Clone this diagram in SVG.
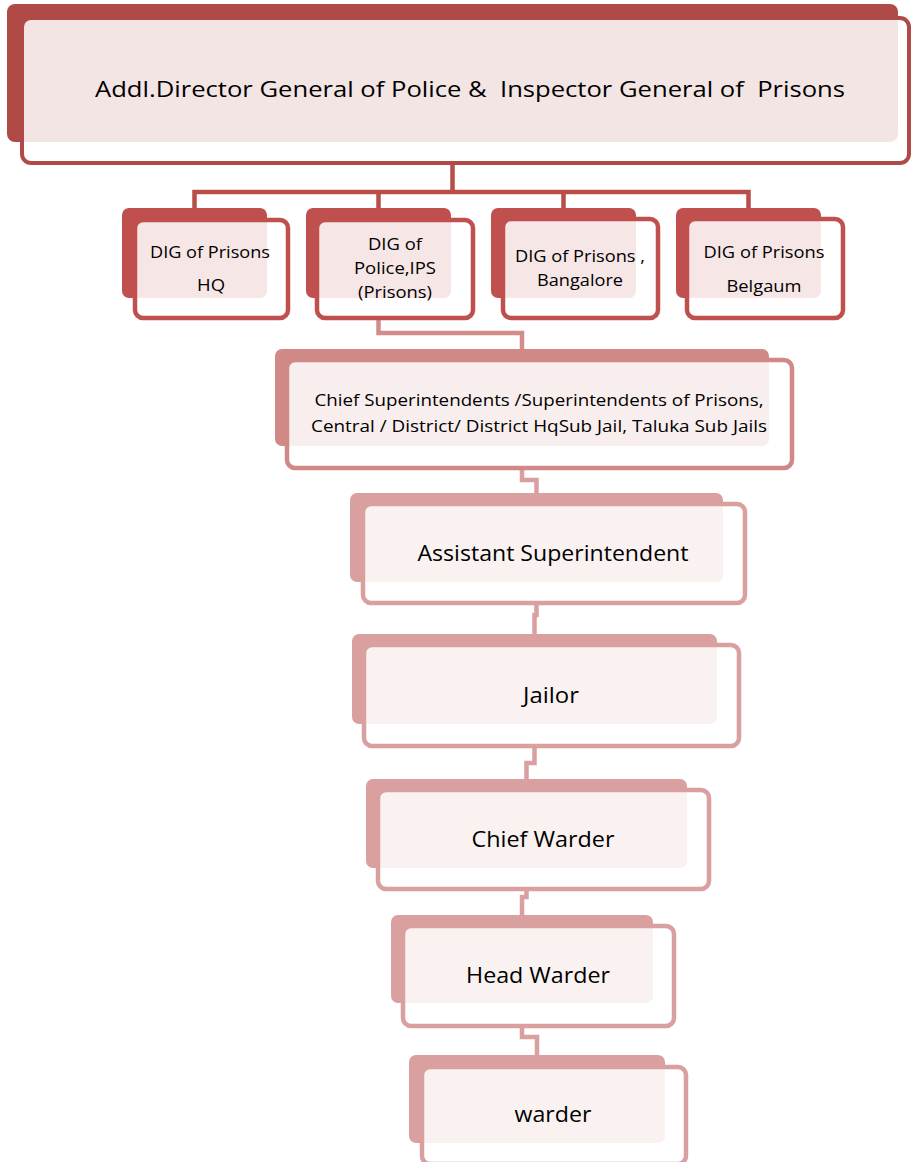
<svg xmlns="http://www.w3.org/2000/svg" width="911" height="1162" viewBox="0 0 911 1162">
<style>
  .bg { fill: #ffffff; }
  .txt { font-family: "Open Sans", "Noto Sans", sans-serif; fill: #000000; text-anchor: middle; }
  .front { fill: #ffffff; fill-opacity: 0.86; }
  .l1 .back { fill: #AF4A47; }
  .l1 .front { stroke: #AF4A47; stroke-width: 4; }
  .l2 .back { fill: #C0504D; }
  .l2 .front { stroke: #C0504D; stroke-width: 4.5; }
  .l3 .back { fill: #D08987; }
  .l3 .front { stroke: #D08987; stroke-width: 4.5; }
  .l4 .back { fill: #D9A09F; }
  .l4 .front { stroke: #D9A09F; stroke-width: 4.5; }
  .conn { fill: none; stroke-width: 4.5; stroke-linejoin: miter; }
  .c1 { stroke: #B84D4A; }
  .c2 { stroke: #D38C8A; }
  .c3 { stroke: #D9A09F; }
</style>
<rect class="bg" x="0" y="0" width="911" height="1162"/>

<g id="connectors">
  <path class="conn c1" d="M452.5,163 V192 M194.5,208 V192 H748.5 V208 M378.5,192 V208"/>
  <path class="conn c1" d="M563.5,192 V208"/>
  <path class="conn c2" d="M378.5,318 V333 H522 V349"/>
  <path class="conn c3" d="M522,468 V480 H536.5 V493"/>
  <path class="conn c3" d="M536.5,603 V615 H534.5 V634"/>
  <path class="conn c3" d="M534.5,746 V763 H526.5 V779"/>
  <path class="conn c3" d="M526.5,889 V897 H522 V915"/>
  <path class="conn c3" d="M522,1026 V1037 H537 V1055"/>
</g>

<g id="node-adgp" class="l1">
  <rect class="back" x="7" y="4" width="891" height="138" rx="8"/>
  <rect class="front" x="22" y="18" width="887" height="145" rx="9"/>
  <text class="txt" x="470" y="97" font-size="22" textLength="750" lengthAdjust="spacingAndGlyphs" xml:space="preserve">Addl.Director General of Police &amp;  Inspector General of  Prisons</text>
</g>

<g id="node-dig-hq" class="l2">
  <rect class="back" x="122" y="208" width="145" height="90" rx="7"/>
  <rect class="front" x="135" y="220" width="153" height="98" rx="8"/>
  <text class="txt" x="210" y="258" font-size="16.5" textLength="120" lengthAdjust="spacingAndGlyphs">DIG of Prisons</text>
  <text class="txt" x="211" y="291" font-size="16.5" textLength="28" lengthAdjust="spacingAndGlyphs">HQ</text>
</g>

<g id="node-dig-police" class="l2">
  <rect class="back" x="306" y="208" width="145" height="90" rx="7"/>
  <rect class="front" x="317" y="220" width="156" height="98" rx="8"/>
  <text class="txt" x="395" y="250" font-size="16.5" textLength="54" lengthAdjust="spacingAndGlyphs">DIG of</text>
  <text class="txt" x="395" y="274" font-size="16.5" textLength="82" lengthAdjust="spacingAndGlyphs">Police,IPS</text>
  <text class="txt" x="395" y="298" font-size="16.5" textLength="74" lengthAdjust="spacingAndGlyphs">(Prisons)</text>
</g>

<g id="node-dig-bangalore" class="l2">
  <rect class="back" x="491" y="208" width="145" height="90" rx="7"/>
  <rect class="front" x="503" y="219" width="155" height="99" rx="8"/>
  <text class="txt" x="580" y="262" font-size="16.5" textLength="130" lengthAdjust="spacingAndGlyphs">DIG of Prisons ,</text>
  <text class="txt" x="580" y="286" font-size="16.5" textLength="86" lengthAdjust="spacingAndGlyphs">Bangalore</text>
</g>

<g id="node-dig-belgaum" class="l2">
  <rect class="back" x="676" y="208" width="145" height="90" rx="7"/>
  <rect class="front" x="687" y="219" width="156" height="99" rx="8"/>
  <text class="txt" x="764" y="258" font-size="16.5" textLength="121" lengthAdjust="spacingAndGlyphs">DIG of Prisons</text>
  <text class="txt" x="764" y="292" font-size="16.5" textLength="75" lengthAdjust="spacingAndGlyphs">Belgaum</text>
</g>

<g id="node-chief-supt" class="l3">
  <rect class="back" x="275" y="349" width="494" height="97" rx="7"/>
  <rect class="front" x="287" y="360" width="505" height="108" rx="8"/>
  <text class="txt" x="539" y="406" font-size="16.5" textLength="449" lengthAdjust="spacingAndGlyphs">Chief Superintendents /Superintendents of Prisons,</text>
  <text class="txt" x="539" y="432" font-size="16.5" textLength="456" lengthAdjust="spacingAndGlyphs">Central / District/ District HqSub Jail, Taluka Sub Jails</text>
</g>

<g id="node-asst-supt" class="l4">
  <rect class="back" x="350" y="493" width="373" height="89" rx="7"/>
  <rect class="front" x="363" y="504" width="382" height="99" rx="8"/>
  <text class="txt" x="553" y="561" font-size="21.5" textLength="271" lengthAdjust="spacingAndGlyphs">Assistant Superintendent</text>
</g>

<g id="node-jailor" class="l4">
  <rect class="back" x="352" y="634" width="365" height="90" rx="7"/>
  <rect class="front" x="364" y="645" width="375" height="101" rx="8"/>
  <text class="txt" x="551" y="703" font-size="21.5" textLength="56" lengthAdjust="spacingAndGlyphs">Jailor</text>
</g>

<g id="node-chief-warder" class="l4">
  <rect class="back" x="366" y="779" width="321" height="89" rx="7"/>
  <rect class="front" x="378" y="790" width="331" height="99" rx="8"/>
  <text class="txt" x="543" y="847" font-size="21.5" textLength="143" lengthAdjust="spacingAndGlyphs">Chief Warder</text>
</g>

<g id="node-head-warder" class="l4">
  <rect class="back" x="391" y="915" width="262" height="88" rx="7"/>
  <rect class="front" x="403" y="926" width="271" height="100" rx="8"/>
  <text class="txt" x="538" y="983" font-size="21.5" textLength="144" lengthAdjust="spacingAndGlyphs">Head Warder</text>
</g>

<g id="node-warder" class="l4">
  <rect class="back" x="409" y="1055" width="256" height="88" rx="7"/>
  <rect class="front" x="422" y="1067" width="264" height="97" rx="8"/>
  <text class="txt" x="553" y="1122" font-size="21.5" textLength="77" lengthAdjust="spacingAndGlyphs">warder</text>
</g>
</svg>
